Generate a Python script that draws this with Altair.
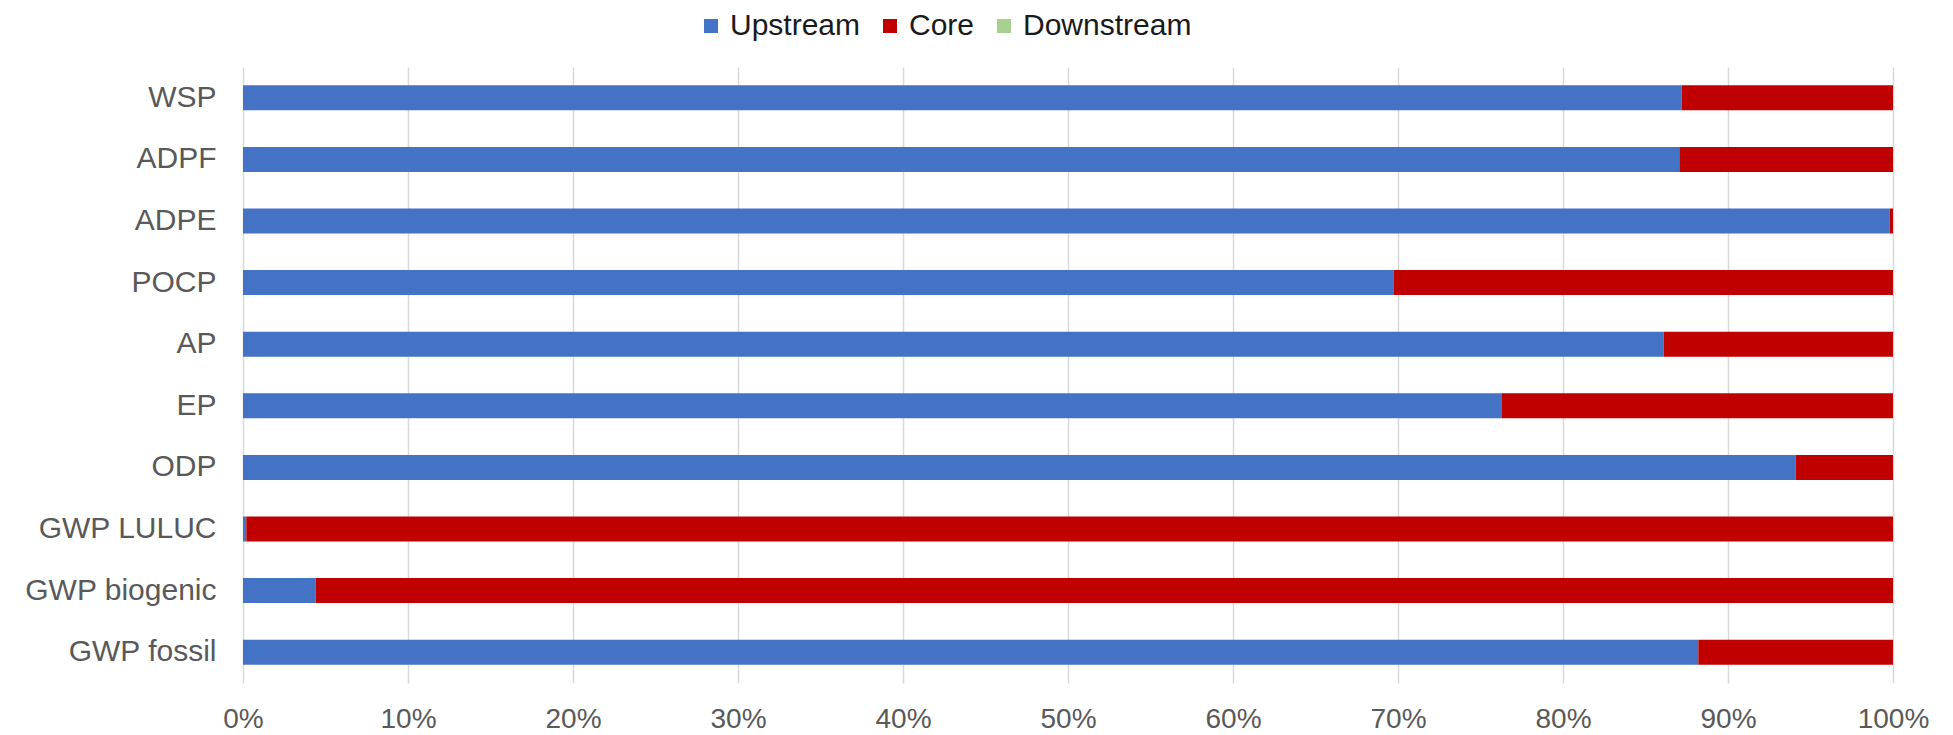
import altair as alt
import pandas as pd

categories = ["WSP", "ADPF", "ADPE", "POCP", "AP", "EP", "ODP",
              "GWP LULUC", "GWP biogenic", "GWP fossil"]
series = ["Upstream", "Core", "Downstream"]
upstream = [0.872, 0.8705, 0.998, 0.6975, 0.861, 0.763, 0.941, 0.002, 0.044, 0.882]
core = [round(1 - u, 4) for u in upstream]
downstream = [0.0] * len(categories)
colors = ["#4472C4", "#C00000", "#A9D18E"]
x_ticks = [i / 10 for i in range(11)]

rows = []
for i, c in enumerate(categories):
    for j, (s, vals) in enumerate(zip(series, [upstream, core, downstream])):
        rows.append({"category": c, "series": s, "value": vals[i], "order": j})
df = pd.DataFrame(rows)

FONT = "Liberation Sans"

chart = alt.Chart(df).mark_bar().encode(
    y=alt.Y("category:N", sort=categories,
            scale=alt.Scale(paddingInner=0.594, paddingOuter=0.297),
            axis=alt.Axis(title=None, domain=False, ticks=False, grid=False,
                          labelFontSize=30, labelColor="#595959", labelFont=FONT,
                          labelPadding=27, labelLimit=0)),
    x=alt.X("value:Q", stack="zero",
            scale=alt.Scale(domain=[0, 1], nice=False),
            axis=alt.Axis(title=None, format=".0%", values=x_ticks, domain=False,
                          ticks=False, grid=True, gridColor="#D9D9D9", gridWidth=1.5,
                          labelFontSize=28, labelColor="#595959", labelFont=FONT,
                          labelPadding=22, labelFlush=False, labelLimit=0)),
    color=alt.Color("series:N",
                    scale=alt.Scale(domain=series, range=colors),
                    legend=alt.Legend(title=None, orient="none", direction="horizontal",
                                      legendX=453, legendY=-56,
                                      symbolType="square", symbolSize=196,
                                      symbolStrokeWidth=0,
                                      labelFontSize=30, labelFont=FONT,
                                      labelColor="#1a1a1a", labelOffset=4,
                                      labelLimit=0, columnPadding=14)),
    order=alt.Order("order:Q"),
).properties(
    width=1650,
    height=616,
    autosize=alt.AutoSizeParams(type="none"),
    padding={"left": 235, "top": 59, "right": 52, "bottom": 52},
).configure_view(stroke=None)

chart.save("out.html", embed_options={"renderer": "svg", "actions": False})
